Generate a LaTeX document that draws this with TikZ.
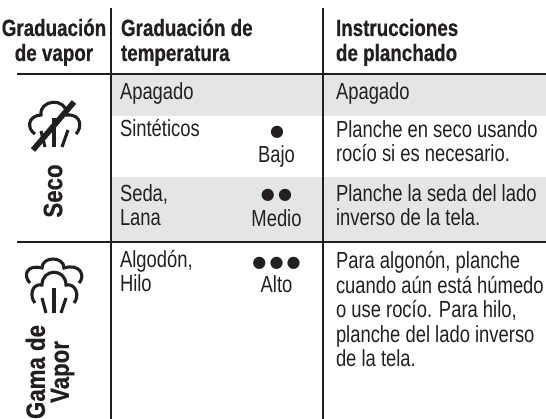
\documentclass[tikz,border=0pt]{standalone}
\usepackage{fontspec}
\setmainfont{Liberation Sans}[FakeStretch=0.79,BoldFeatures={FakeStretch=0.80,FakeBold=0.6}]
\newfontfamily\sidefont{Liberation Sans}[FakeStretch=0.84,BoldFeatures={FakeStretch=0.84,FakeBold=0.6}]
\newfontfamily\dotfont{DejaVu Sans}
\definecolor{ink}{RGB}{35,31,32}
\definecolor{band}{RGB}{228,229,231}
\tikzset{
  rule/.style={draw=ink,line width=2.4pt},
  txt/.style={anchor=base west,inner sep=0pt,outer sep=0pt,text=ink,font=\fontsize{23.3}{24.4}\selectfont,align=left},
  hd/.style={anchor=base west,inner sep=0pt,outer sep=0pt,text=ink,font=\fontsize{23.5}{25}\selectfont\bfseries,align=left},
  side/.style={anchor=center,rotate=90,inner sep=0pt,text=ink,align=center,font=\sidefont\fontsize{26.5}{24}\selectfont\bfseries},
  dots/.style={inner sep=0pt,text=ink,font=\dotfont\fontsize{16}{16}\selectfont,align=center},
  lab/.style={inner sep=0pt,text=ink,font=\fontsize{23.3}{25}\selectfont,align=center,anchor=base},
  ico/.style={draw=ink,line width=3.1pt,line cap=butt,fill=none},
}
\begin{document}
\begin{tikzpicture}[x=1pt,y=-1pt]
\useasboundingbox (0,0) rectangle (546,419);
\fill[band] (112,75) rectangle (546,116.5);
\fill[band] (112,176.7) rectangle (546,241);
\coordinate (v1t) at (111,8); \coordinate (v1b) at (111,419);
\coordinate (v2t) at (323,8); \coordinate (v2b) at (323,419);
\coordinate (h1l) at (17,74); \coordinate (h1r) at (546,74);
\coordinate (h2l) at (17,242); \coordinate (h2r) at (546,242);
\draw[rule] (v1t) -- (v1b);
\draw[rule] (v2t) -- (v2b);
\draw[rule] (h1l) -- (h1r);
\draw[rule] (h2l) -- (h2r);
% headers
\node[hd,anchor=base,align=center] (hvap) at (54,61) {Graduación\\de vapor};
\node[hd] (htemp) at (121,61) {Graduación de\\temperatura};
\node[hd] (hins) at (336,61) {Instrucciones\\de planchado};
% temp col
\node[txt] (t1) at (120,100) {Apagado};
\node[txt] (t2) at (120,137) {Sintéticos};
\node[txt] (t3) at (120,226) {Seda,\\Lana};
\node[txt] (t4) at (120,292) {Algodón,\\Hilo};
\node[dots] (d1) at (277,132) {●};
\node[lab] (b1) at (276.5,163) {Bajo};
\node[dots] (d2) at (276.5,195) {●\hspace{3.2pt}●};
\node[lab] (b2) at (276.5,227) {Medio};
\node[dots] (d3) at (276.5,263) {●\hspace{3.2pt}●\hspace{3.2pt}●};
\node[lab] (b3) at (276.5,293) {Alto};
% instructions
\node[txt] (i1) at (336,100) {Apagado};
\node[txt] (i2) at (336,162) {Planche en seco usando\\rocío si es necesario.};
\node[txt] (i3) at (336,226) {Planche la seda del lado\\inverso de la tela.};
\node[txt] (i4) at (336,366.5) {Para algonón, planche\\cuando aún está húmedo\\o use rocío. Para hilo,\\planche del lado inverso\\de la tela.};
% side labels
\node[side] (seco) at (53,191) {Seco};
\node[side] (gama) at (50,372) {Gama de\\Vapor};
% dry icon
\draw[ico] (35,134) .. controls (27,129) and (27,116) .. (41,115) .. controls (39,100) and (66,96) .. (67,115) .. controls (82,114) and (82,128) .. (76,134);
\draw[ico] (54,118) -- (54,147);
\draw[ico] (41,131) -- (45,147);
\draw[ico] (68,130) -- (62,147);
\draw[draw=ink,line width=5.6pt] (33,150) -- (74,102);
% steam icon
\draw[ico] (30,283) .. controls (23,276) and (26,264) .. (42,268) .. controls (42,256) and (64,256) .. (64,268) .. controls (80,263) and (86,276) .. (79,283);
\draw[ico] (35,303) .. controls (29,296) and (32,283) .. (42,285) .. controls (42,268) and (66,268) .. (66,285) .. controls (76,283) and (80,296) .. (74,303);
\draw[ico] (54,288) -- (54,313);
\draw[ico] (42,298) -- (46,313);
\draw[ico] (66,298) -- (61,313);
\end{tikzpicture}
\end{document}
